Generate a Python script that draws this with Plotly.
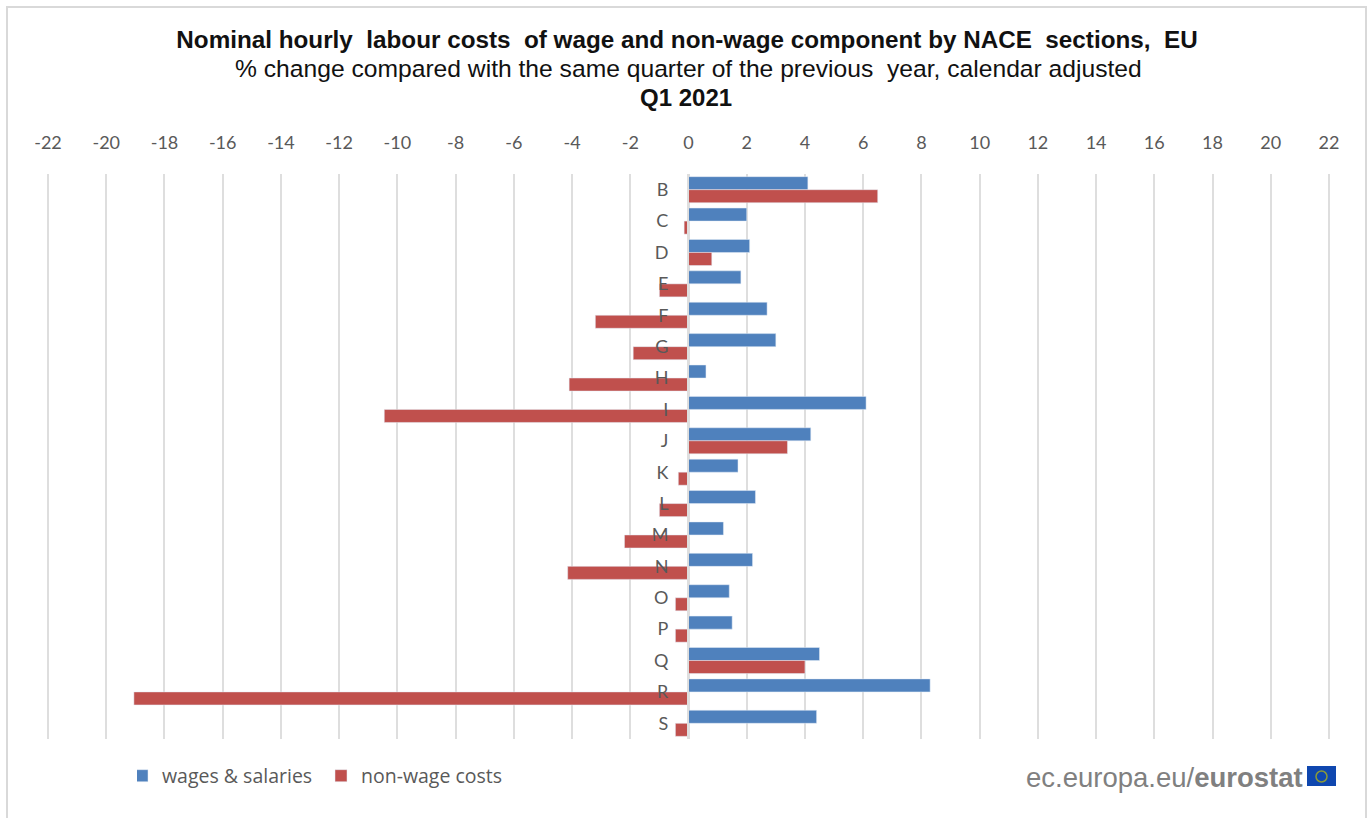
import plotly.graph_objects as go

categories = ["B", "C", "D", "E", "F", "G", "H", "I", "J", "K", "L", "M", "N", "O", "P", "Q", "R", "S"]
wages = [4.1, 2.0, 2.1, 1.8, 2.7, 3.0, 0.6, 6.1, 4.2, 1.7, 2.3, 1.2, 2.2, 1.4, 1.5, 4.5, 8.3, 4.4]
non_wage = [6.5, -0.15, 0.8, -1.0, -3.2, -1.9, -4.1, -10.45, 3.4, -0.35, -1.0, -2.2, -4.15, -0.45, -0.45, 4.0, -19.05, -0.45]
x_ticks = list(range(-22, 23, 2))

W, H = 1370, 818
ML, MR, MT, MB = 47, 40, 174, 79
PW, PH = W - ML - MR, H - MT - MB


def px(x):
    return (x - ML) / PW


def py(y):
    return 1 - (y - MT) / PH


fig = go.Figure()
fig.add_trace(go.Bar(name="wages & salaries", y=categories, x=wages, orientation="h", marker_color="#4F81BD"))
fig.add_trace(go.Bar(name="non-wage costs", y=categories, x=non_wage, orientation="h", marker_color="#C0504D"))

shapes = [
    dict(type="rect", xref="paper", yref="paper", x0=px(7), x1=px(1366), y0=py(7), y1=py(830),
         line=dict(color="#D9D9D9", width=2), fillcolor="rgba(0,0,0,0)", layer="below"),
    dict(type="rect", xref="paper", yref="paper", x0=px(1307), x1=px(1336), y0=py(766), y1=py(786),
         line=dict(width=0), fillcolor="#0F47AF"),
    dict(type="circle", xref="paper", yref="paper", x0=px(1316), x1=px(1327), y0=py(771), y1=py(782),
         line=dict(color="#8A9A3A", width=1.5), fillcolor="rgba(0,0,0,0)"),
]

TITLE_FONT = "Liberation Sans, Arial, sans-serif"
NB = "\u00a0"

fig.update_layout(
    width=W, height=H,
    margin=dict(l=ML, r=MR, t=MT, b=MB, autoexpand=False),
    paper_bgcolor="white", plot_bgcolor="white",
    barmode="group", bargap=0.17, bargroupgap=0,
    font=dict(family="Lato, Open Sans, sans-serif", color="#595959"),
    title=dict(
        text=f"<b>Nominal hourly {NB}labour costs {NB}of wage and non-wage component by NACE {NB}sections, {NB}EU</b>",
        x=687 / W, xanchor="center", y=1 - 40 / H, yanchor="middle",
        font=dict(family=TITLE_FONT, size=24.25, color="#111111"),
    ),
    xaxis=dict(
        side="top", range=[-22.035, 22.035], tickvals=x_ticks, ticktext=[str(v) for v in x_ticks],
        showgrid=True, gridcolor="#DEDEDE", gridwidth=2, zeroline=False, showline=False,
        ticks="", ticklabelstandoff=20, tickfont=dict(size=18, color="#595959"),
    ),
    yaxis=dict(
        type="category", categoryorder="array", categoryarray=categories, autorange="reversed",
        anchor="free", position=0.4996, showgrid=False, zeroline=False,
        showline=True, linecolor="#DEDEDE", linewidth=2,
        ticks="", ticklabelstandoff=15, tickfont=dict(size=18, color="#595959"),
    ),
    legend=dict(
        orientation="h", x=px(137), xanchor="left", y=py(776), yanchor="middle",
        font=dict(family="Open Sans, sans-serif", size=19.5, color="#595959"), traceorder="normal",
        entrywidth=169, indentation=-15,
    ),
    shapes=shapes,
    annotations=[
        dict(text=f"% change compared with the same quarter of the previous {NB}year, calendar adjusted",
             xref="paper", yref="paper", x=px(688), y=py(69), xanchor="center", yanchor="middle",
             showarrow=False, font=dict(family=TITLE_FONT, size=24.65, color="#111111")),
        dict(text="<b>Q1 2021</b>",
             xref="paper", yref="paper", x=px(686), y=py(97), xanchor="center", yanchor="middle",
             showarrow=False, font=dict(family=TITLE_FONT, size=24, color="#111111")),
        dict(text="ec.europa.eu/<b>eurostat</b>", xref="paper", yref="paper", x=px(1305), y=py(777),
             xanchor="right", yanchor="middle", showarrow=False,
             font=dict(family=TITLE_FONT, size=27.5, color="#808080")),
    ],
)

fig.write_html("out.html", config={"displayModeBar": False}, post_script="document.body.style.margin='0';")
